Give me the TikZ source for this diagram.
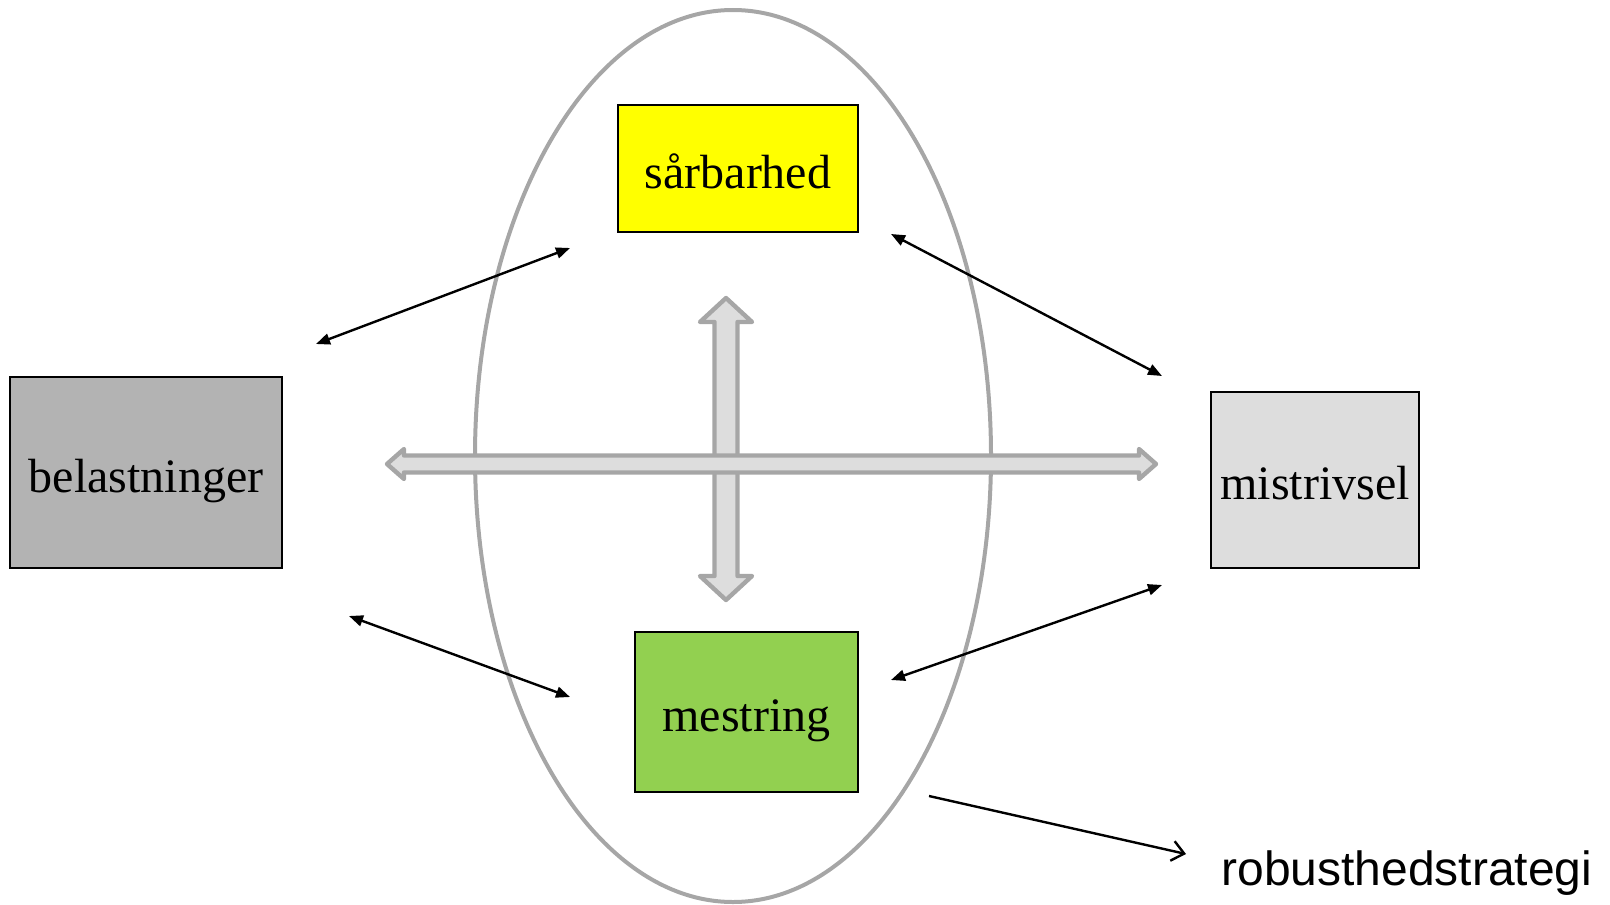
\documentclass[tikz,border=0pt]{standalone}
\usepackage{fontspec}
\setmainfont{Liberation Serif}
\newfontfamily\robustfont{Liberation Sans}
\usetikzlibrary{arrows.meta}

\definecolor{sargul}{HTML}{FFFF00}
\definecolor{mesgron}{HTML}{92D050}
\definecolor{belgraa}{HTML}{B3B3B3}
\definecolor{misgraa}{HTML}{DDDDDD}
\definecolor{kant}{HTML}{A6A6A6}

\begin{document}
\begin{tikzpicture}[x=0.5pt, y=-0.5pt,
    boks/.style={draw=black, line width=0.75pt, inner sep=0pt, text height=19.5pt, text depth=0pt,
      font=\fontsize{24}{28}\selectfont},
    pil/.style={line width=1.2pt, {Triangle[length=7pt,width=5.5pt]}-{Triangle[length=7pt,width=5.5pt]}},
    tykpil/.style={draw=kant, fill=misgraa, line width=2.2pt, line join=round}]

    \useasboundingbox (0,0) rectangle (1610,904);

    %% ellipse
    \draw[kant, line width=2pt] (733,456) ellipse [x radius=258, y radius=446];

    %% boxes
    \node[boks, fill=sargul, minimum width=120pt, minimum height=63.5pt] (sar) at (738,168.5) {sårbarhed};
    \node[boks, fill=belgraa, minimum width=136pt, minimum height=95.5pt] (bel) at (146,472.5) {belastninger};
    \node[boks, fill=misgraa, minimum width=104pt, minimum height=88pt] (mis) at (1315,480) {mistrivsel};
    \node[boks, fill=mesgron, minimum width=111.5pt, minimum height=80pt] (mes) at (746.5,712) {mestring};
    \node[font=\robustfont\fontsize{24}{28}\selectfont, anchor=base west, inner sep=0pt] (rob) at (1221,885) {robusthedstrategi};

    %% big double arrows
    \draw[tykpil] (726,298) -- (752,322) -- (737.5,322) -- (737.5,576) -- (752,576)
      -- (726,600) -- (700,576) -- (714.5,576) -- (714.5,322) -- (700,322) -- cycle;
    \draw[tykpil] (387,464) -- (404,449) -- (404,455.5) -- (1139,455.5) -- (1139,449)
      -- (1156,464) -- (1139,479) -- (1139,472.5) -- (404,472.5) -- (404,479) -- cycle;

    %% free ends of the thin arrows
    \coordinate (belA) at (316,344);
    \coordinate (sarA) at (570,248);
    \coordinate (sarB) at (891,234);
    \coordinate (misA) at (1162,376);
    \coordinate (belB) at (349,616);
    \coordinate (mesA) at (570,697);
    \coordinate (mesB) at (891,680);
    \coordinate (misB) at (1162,585);
    \coordinate (mesC) at (929,796);
    \coordinate (robA) at (1186,854);

    %% thin arrows
    \draw[pil] (belA) -- (sarA);
    \draw[pil] (sarB) -- (misA);
    \draw[pil] (belB) -- (mesA);
    \draw[pil] (mesB) -- (misB);
    \draw[line width=1.2pt, -{Straight Barb[length=6pt,width=10pt]}] (mesC) -- (robA);
\end{tikzpicture}
\end{document}
